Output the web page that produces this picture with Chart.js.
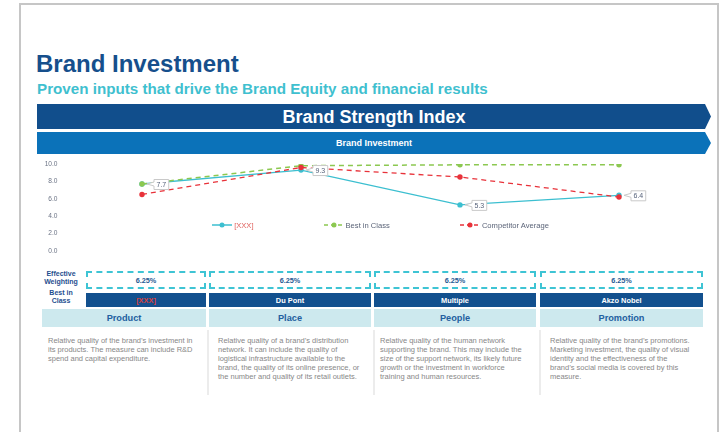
<!DOCTYPE html>
<html>
<head>
<meta charset="utf-8">
<title>Brand Investment</title>
<script src="https://cdn.jsdelivr.net/npm/chart.js@4.4.1/dist/chart.umd.min.js"></script>
<style>
  html, body { margin: 0; padding: 0; background: #fff; }
  body { width: 725px; height: 432px; overflow: hidden; position: relative; font-family: "Liberation Sans", Arial, sans-serif; }
  .frame { position: absolute; left: 19px; top: 3px; width: 700px; height: 470px; border: 2px solid #c6c6c6; border-bottom: none; box-sizing: border-box; }
  .title { position: absolute; left: 36px; top: 52px; font-size: 24px; line-height: 24px; font-weight: bold; color: #164f8c; white-space: nowrap; }
  .subtitle { position: absolute; left: 37px; top: 81px; font-size: 15.2px; line-height: 15px; font-weight: bold; color: #3fc0cf; white-space: nowrap; }
  .banner { position: absolute; left: 37px; width: 674px; display: flex; align-items: center; justify-content: center; color: #fff; font-weight: bold;
    clip-path: polygon(0 0, calc(100% - 6px) 0, 100% 50%, calc(100% - 6px) 100%, 0 100%); }
  .banner.main { top: 104px; height: 25px; background: #114e8c; font-size: 18px; line-height: 18px; }
  .banner.sub { top: 132px; height: 22px; background: #0b72b9; font-size: 9px; line-height: 9px; }
  #chart-box { position: absolute; left: 37px; top: 155px; width: 668px; height: 105px; }
  #legend { position: absolute; left: 62.5px; width: 636px; top: 220px; height: 10px; display: flex; justify-content: center; align-items: center; gap: 70px; font-size: 7.6px; color: #5b6478; }
  .legend-item { display: flex; align-items: center; gap: 2px; white-space: nowrap; }
  .row-label { position: absolute; left: 40px; width: 42px; text-align: center; font-size: 7px; line-height: 8px; font-weight: bold; color: #1f4f8f; }
  .cell { position: absolute; box-sizing: border-box; display: flex; align-items: center; justify-content: center; font-weight: bold; white-space: nowrap; }
  .weight { border: 2px dashed #3ec4d4; font-size: 7.3px; color: #1f5a93; }
  .best { background: #12508e; color: #fff; font-size: 7.4px; }
  .head { background: #cde9ee; color: #2360a0; font-size: 9.2px; }
  .sep { position: absolute; width: 2px; background: #ececec; }
  .desc { position: absolute; font-size: 7.5px; line-height: 9px; color: #888888; white-space: pre-line; }
</style>
</head>
<body>
<div class="frame"></div>
<div class="title">Brand Investment</div>
<div class="subtitle">Proven inputs that drive the Brand Equity and financial results</div>
<div class="banner main">Brand Strength Index</div>
<div class="banner sub">Brand Investment</div>
<div id="chart-box"><canvas id="chart"></canvas></div>
<div id="legend"></div>
<div id="table"></div>

<script>
const categories = ['Product', 'Place', 'People', 'Promotion'];
const seriesNames = ['[XXX]', 'Best in Class', 'Competitor Average'];
const brandScores = [7.7, 9.3, 5.3, 6.4];
const bestInClassScores = [7.7, 9.8, 9.9, 9.9];
const competitorScores = [6.5, 9.6, 8.5, 6.2];
const yTickValues = [0, 2, 4, 6, 8, 10];

const weightings = ['6.25%', '6.25%', '6.25%', '6.25%'];
const bestInClassNames = ['[XXX]', 'Du Pont', 'Multiple', 'Akzo Nobel'];
const descriptions = [
  'Relative quality of the brand’s investment in\nits products. The measure can include R&D\nspend and capital expenditure.',
  'Relative quality of a brand’s distribution\nnetwork. It can include the quality of\nlogistical infrastructure available to the\nbrand, the quality of its online presence, or\nthe number and quality of its retail outlets.',
  'Relative quality of the human network\nsupporting the brand. This may include the\nsize of the support network, its likely future\ngrowth or the investment in workforce\ntraining and human resources.',
  'Relative quality of the brand’s promotions.\nMarketing investment, the quality of visual\nidentity and the effectiveness of the\nbrand’s social media is covered by this\nmeasure.',
];

const colours = { brand: '#3cbfd0', best: '#8cc850', competitor: '#e8323a' };
const fontFamily = '"Liberation Sans", Arial, sans-serif';

// column layout of the table under the chart
const colLeft = [86, 209, 374, 540];
const colRight = [206, 371, 536, 703];
const descLeft = [48, 218, 380, 550];
const sepX = [207, 373, 539];

const calloutPlugin = {
  id: 'callouts',
  afterDatasetsDraw(chart) {
    const meta = chart.getDatasetMeta(0);
    const ctx = chart.ctx;
    ctx.save();
    ctx.font = `7px ${fontFamily}`;
    meta.data.forEach((point, i) => {
      const text = brandScores[i].toFixed(1);
      const w = ctx.measureText(text).width + 5;
      const h = 10;
      const bx = point.x + 12;
      const by = point.y - h / 2 + 0.5;
      ctx.beginPath();
      ctx.moveTo(point.x + 5, point.y);
      ctx.lineTo(bx, point.y - 2);
      ctx.lineTo(bx, by);
      ctx.lineTo(bx + w, by);
      ctx.lineTo(bx + w, by + h);
      ctx.lineTo(bx, by + h);
      ctx.lineTo(bx, point.y + 2);
      ctx.closePath();
      ctx.fillStyle = '#fff';
      ctx.fill();
      ctx.strokeStyle = '#c9c9c9';
      ctx.lineWidth = 1;
      ctx.stroke();
      ctx.fillStyle = '#56627a';
      ctx.textAlign = 'center';
      ctx.textBaseline = 'middle';
      ctx.fillText(text, bx + w / 2, by + h / 2 + 0.5);
    });
    ctx.restore();
  },
};

function drawChart() {
  const canvas = document.getElementById('chart');

  const datasets = [
    { label: seriesNames[0], data: brandScores, borderColor: colours.brand, backgroundColor: colours.brand, borderWidth: 1.3, order: 3 },
    { label: seriesNames[1], data: bestInClassScores, borderColor: colours.best, backgroundColor: colours.best, borderWidth: 1.5, borderDash: [5, 4], order: 2 },
    { label: seriesNames[2], data: competitorScores, borderColor: colours.competitor, backgroundColor: colours.competitor, borderWidth: 1.3, borderDash: [5, 4], order: 1 },
  ].map(dataset => ({ ...dataset, pointRadius: 2.7, pointBorderWidth: 0, tension: 0, fill: false }));

  new Chart(canvas, {
    type: 'line',
    data: { labels: categories, datasets },
    options: {
      responsive: true,
      maintainAspectRatio: false,
      animation: false,
      layout: { padding: { top: 8, right: 6.5, bottom: 8, left: 0 } },
      plugins: { legend: { display: false }, tooltip: { enabled: false } },
      scales: {
        x: { type: 'category', offset: true, display: false },
        y: {
          min: yTickValues[0],
          max: yTickValues[yTickValues.length - 1],
          afterBuildTicks: scale => { scale.ticks = yTickValues.map(value => ({ value })); },
          afterFit: scale => { scale.width = 25.5; },
          grid: { display: false, drawTicks: false },
          border: { display: false },
          ticks: {
            padding: 5,
            color: '#6b7385',
            font: { size: 6.6, family: fontFamily },
            callback: value => Number(value).toFixed(1),
          },
        },
      },
    },
    plugins: [calloutPlugin],
  });
}

function drawLegend() {
  const legend = document.getElementById('legend');
  const items = [
    { name: seriesNames[0], colour: colours.brand, dash: '', textColour: '#e0625e' },
    { name: seriesNames[1], colour: colours.best, dash: '4 3', textColour: '#5b6478' },
    { name: seriesNames[2], colour: colours.competitor, dash: '4 3', textColour: '#5b6478' },
  ];
  legend.innerHTML = items.map(item => `
    <span class="legend-item">
      <svg width="20" height="6"><line x1="0" y1="3" x2="20" y2="3" stroke="${item.colour}" stroke-width="1.5" stroke-dasharray="${item.dash}"/><circle cx="10" cy="3" r="2.5" fill="${item.colour}"/></svg>
      <span style="color:${item.textColour}">${item.name}</span>
    </span>`).join('');
}

function drawTable() {
  const table = document.getElementById('table');
  let html = '';
  html += `<div class="row-label" style="top:269.6px">Effective<br>Weighting</div>`;
  html += `<div class="row-label" style="top:289.3px">Best in<br>Class</div>`;
  categories.forEach((category, i) => {
    const width = colRight[i] - colLeft[i];
    const headLeft = i === 0 ? 42 : colLeft[i];
    html += `<div class="cell weight" style="left:${colLeft[i]}px;top:271px;width:${width}px;height:18px">${weightings[i]}</div>`;
    const nameColour = bestInClassNames[i] === '[XXX]' ? 'color:#d9403e;' : '';
    html += `<div class="cell best" style="left:${colLeft[i]}px;top:293px;width:${width}px;height:14px;${nameColour}">${bestInClassNames[i]}</div>`;
    html += `<div class="cell head" style="left:${headLeft}px;top:309px;width:${colRight[i] - headLeft}px;height:18px">${category}</div>`;
    html += `<div class="desc" style="left:${descLeft[i]}px;top:336.4px">${descriptions[i].replace(/&/g, '&amp;')}</div>`;
  });
  sepX.forEach(x => {
    html += `<div class="sep" style="left:${x}px;top:330px;height:65px"></div>`;
  });
  table.innerHTML = html;
}

document.addEventListener('DOMContentLoaded', () => {
  drawChart();
  drawLegend();
  drawTable();
});
</script>
</body>
</html>
